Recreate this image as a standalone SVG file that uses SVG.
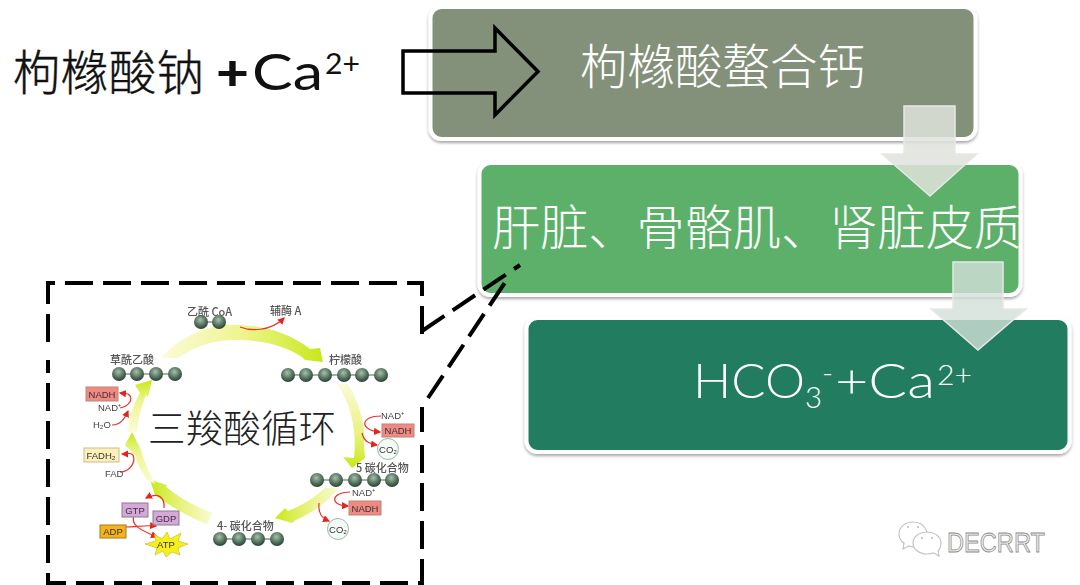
<svg xmlns="http://www.w3.org/2000/svg" width="1080" height="585" viewBox="0 0 1080 585">
<defs>
<filter id="sh" x="-5%" y="-10%" width="110%" height="125%"><feDropShadow dx="0" dy="2" stdDeviation="1.600" flood-color="#000" flood-opacity=".35"/></filter>
<filter id="soft" x="-10%" y="-10%" width="120%" height="120%"><feGaussianBlur stdDeviation=".55"/></filter>
<radialGradient id="ball" cx="45%" cy="35%" r="65%"><stop offset="0" stop-color="#a9bfae"/><stop offset=".55" stop-color="#5a7a64"/><stop offset="1" stop-color="#2a4032"/></radialGradient>
<linearGradient id="y1" x1="0" y1="0" x2="1" y2="0"><stop offset="0" stop-color="#fbfbd8"/><stop offset=".5" stop-color="#eef58f"/><stop offset="1" stop-color="#c8e81a"/></linearGradient>
<linearGradient id="y2" x1="0" y1="0" x2="0" y2="1"><stop offset="0" stop-color="#fbfbd8"/><stop offset=".6" stop-color="#e8f27e"/><stop offset="1" stop-color="#c8e81a"/></linearGradient>
<linearGradient id="y3" x1="1" y1="0" x2="0" y2="0"><stop offset="0" stop-color="#fbfbd8"/><stop offset=".5" stop-color="#e8f27e"/><stop offset="1" stop-color="#c8e81a"/></linearGradient>
<linearGradient id="y4" x1="0" y1="1" x2="0" y2="0"><stop offset="0" stop-color="#fbfbd8"/><stop offset=".6" stop-color="#eef58f"/><stop offset="1" stop-color="#c8e81a"/></linearGradient>
<marker id="ra" markerWidth="6" markerHeight="6" refX="5" refY="3" orient="auto"><path d="M0,0L6,3L0,6Z" fill="#e8241c"/></marker>
</defs>
<style>
text{font-family:"Noto Sans CJK SC","Noto Sans",sans-serif}
.big{font-size:47.500px;font-weight:300;fill:#fff}
.blk{fill:#111}
.lat{font-family:"Lato","Open Sans",sans-serif}
.box{stroke:#fff;stroke-width:4;filter:url(#sh)}
.da{fill:#dfe3dc;fill-opacity:.85;stroke:#e8e8e6;stroke-width:1.500}
.dash{fill:none;stroke:#000;stroke-width:4;stroke-dasharray:28 10}
.ball{fill:url(#ball)}
.bond{stroke:#4a6152;stroke-width:1}
.cn{font-size:11px;fill:#555;font-weight:500}
.lab{font-size:9.500px;fill:#444;font-family:"Liberation Sans",sans-serif}
.tag{font-size:9.500px;fill:#3a3040;font-family:"Liberation Sans",sans-serif;text-anchor:middle}
.red{fill:none;stroke:#e8332a;stroke-width:1.200;marker-end:url(#ra)}
</style>
<rect width="1080" height="585" fill="#fff"/>

<g id="node-citrate-calcium"><rect class="box" x="430.500" y="7" width="545" height="132" rx="11" fill="#84917a"/><text class="big" x="580" y="84">枸橼酸螯合钙</text></g>
<g id="node-organs"><rect class="box" x="479.500" y="163" width="541" height="132" rx="11" fill="#5bb069"/><text class="big" x="492" y="245" font-size="48" textLength="530" lengthAdjust="spacingAndGlyphs">肝脏、骨骼肌、肾脏皮质</text></g>
<g id="node-products"><rect class="box" x="526.500" y="318" width="543" height="134" rx="11" fill="#217b5e"/>
<text class="big lat" x="693" y="398" textLength="112" lengthAdjust="spacingAndGlyphs">HCO</text>
<text class="big lat" x="805" y="408" style="font-size:30px" textLength="17" lengthAdjust="spacingAndGlyphs">3</text>
<text class="big lat" x="822" y="383" style="font-size:30px">-</text>
<text class="big lat" x="835" y="398" textLength="100" lengthAdjust="spacingAndGlyphs">+Ca</text>
<text class="big lat" x="937" y="385" style="font-size:27px" textLength="35" lengthAdjust="spacingAndGlyphs">2+</text></g>

<g id="node-reactant"><text class="blk" x="13" y="90" font-size="47.500" font-weight="300" stroke="#111" stroke-width=".4" textLength="191">枸橼酸钠</text><text class="blk lat" x="216" y="90" font-size="50" font-weight="900" textLength="33" lengthAdjust="spacingAndGlyphs">+</text><text class="blk lat" x="252" y="90" font-size="50" font-weight="400" textLength="71" lengthAdjust="spacingAndGlyphs">Ca</text><text class="blk lat" x="325" y="74" font-size="29" font-weight="400" textLength="35" lengthAdjust="spacingAndGlyphs">2+</text></g>

<g id="connectors">
<path d="M403,51H495V28L538,71.500L495,115V93H403Z" fill="none" stroke="#000" stroke-width="3.500"/>
<path class="da" d="M904,106H955V154H977L930,196L882,154H904Z"/>
<path class="da" style="fill:#d3e0da;fill-opacity:.8" d="M953,262H1003V309H1026L978,350L931,309H953Z"/>
<path d="M422,331L520,265" fill="none" stroke="#000" stroke-width="4" stroke-dasharray="27 10"/>
<path d="M428,398L510,275" fill="none" stroke="#000" stroke-width="4" stroke-dasharray="27 10"/>
</g>

<g id="node-tca-cycle">
<path class="dash" d="M48,342V283H422V335"/>
<path class="dash" d="M422,407V432M422,445V583H48V360"/>
<g filter="url(#soft)">
<path fill="url(#y1)" d="M161,358C183,333 215,323 240,325C265,326 290,333 310,349L320,348L323,362L305,360L302,357C285,346 265,341 240,340C215,339 195,346 178,358Z"/>
<path fill="url(#y2)" d="M337,384H348C358,400 366,425 364,445L365,458L352,468L343,457L354,458C357,435 352,405 337,384Z"/>
<path fill="url(#y3)" d="M325,488H339C327,503 312,513 296,520L292,523L275,518L285,508L288,511C303,505 315,497 325,488Z"/>
<path fill="url(#y3)" d="M213,513L207,524C190,518 172,507 155,495L150,480L167,485L166,487C180,498 196,507 213,513Z"/>
<path fill="url(#y4)" d="M135,455L125,445L132,432L141,450C144,462 149,472 155,484L147,480C142,472 137,464 135,455Z"/>
<path fill="url(#y4)" d="M128,432C129,417 133,405 140,393L135,385L152,380L148,397L146,395C141,407 138,419 137,432Z"/>
<g class="bond"><path d="M201,322H219M119,374H175M288,375H381M317,480H392M220,539H277"/></g>
<g class="ball">
<circle cx="201" cy="322" r="7"/><circle cx="219" cy="322" r="7"/>
<circle cx="119" cy="374" r="7"/><circle cx="137" cy="374" r="7"/><circle cx="156" cy="374" r="7"/><circle cx="175" cy="374" r="7"/>
<circle cx="288" cy="375" r="7"/><circle cx="306" cy="375" r="7"/><circle cx="325" cy="375" r="7"/><circle cx="344" cy="375" r="7"/><circle cx="362" cy="375" r="7"/><circle cx="381" cy="375" r="7"/>
<circle cx="317" cy="480" r="7"/><circle cx="336" cy="480" r="7"/><circle cx="355" cy="480" r="7"/><circle cx="374" cy="480" r="7"/><circle cx="392" cy="480" r="7"/>
<circle cx="220" cy="539" r="7"/><circle cx="239" cy="539" r="7"/><circle cx="258" cy="539" r="7"/><circle cx="277" cy="539" r="7"/>
</g>
<text class="cn" x="187" y="316">乙酰 CoA</text>
<text class="cn" x="270" y="315">辅酶 A</text>
<text class="cn" x="110" y="364">草酰乙酸</text>
<text class="cn" x="329" y="364">柠檬酸</text>
<text class="cn" x="356" y="472">5 碳化合物</text>
<text class="cn" x="217" y="530">4- 碳化合物</text>

<path class="red" d="M240,327C250,331 270,332 284,318"/>
<path class="red" d="M120,408C130,406 134,398 128,394L120,393"/>
<path class="red" d="M112,425C120,425 124,420 128,411"/>
<path class="red" d="M120,472C130,472 136,462 133,455C130,452 126,454 122,454"/>
<path class="red" d="M164,508C165,497 158,492 146,498"/>
<path class="red" d="M134,515C130,525 140,530 157,537"/>
<path class="red" d="M126,527C136,527 144,525 156,526"/>
<path class="red" d="M381,416C360,416 359,430 380,432"/>
<path class="red" d="M362,433C364,442 370,444 377,445"/>
<path class="red" d="M350,492C332,492 328,505 348,506"/>
<path class="red" d="M319,503C318,514 322,518 329,521"/>

<rect x="86" y="387" width="32" height="14" fill="#f08a80" stroke="#b8857d"/><text class="tag" x="102" y="397.500">NADH</text>
<text class="lab" x="98" y="411">NAD⁺</text>
<text class="lab" x="93" y="428">H₂O</text>
<rect x="84" y="448" width="35" height="14" fill="#fbf0b8" stroke="#c9bd8a"/><text class="tag" x="101" y="458.500">FADH₂</text>
<text class="lab" x="105" y="477">FAD</text>
<rect x="122" y="503" width="26" height="14" fill="#d6a8d8" stroke="#8a7a90"/><text class="tag" x="135" y="513.500">GTP</text>
<rect x="153" y="511" width="26" height="14" fill="#d6a8d8" stroke="#8a7a90"/><text class="tag" x="166" y="521.500">GDP</text>
<rect x="100" y="525" width="26" height="13" fill="#f5b21a" stroke="#a07d20"/><text class="tag" x="113" y="535">ADP</text>
<path d="M145,544L156,541L154,534L162,539L167,532L170,539L181,533L178,541L188,544L178,548L180,555L172,552L166,557L163,551L155,555L157,548Z" fill="#f5f01e" stroke="#b5a810" stroke-width=".5"/><text class="tag" x="166" y="548" font-size="8">ATP</text>
<rect x="382" y="424" width="32" height="13" fill="#f08a80" stroke="#b8857d"/><text class="tag" x="398" y="434">NADH</text>
<text class="lab" x="381" y="419">NAD⁺</text>
<circle cx="388" cy="449" r="10.500" fill="#f4faf4" stroke="#9db8a8"/><text class="tag" x="388" y="453">CO₂</text>
<rect x="349" y="501" width="32" height="14" fill="#f08a80" stroke="#b8857d"/><text class="tag" x="365" y="511.500">NADH</text>
<text class="lab" x="352" y="496">NAD⁺</text>
<circle cx="338" cy="529" r="10.500" fill="#f4faf4" stroke="#9db8a8"/><text class="tag" x="338" y="533">CO₂</text>
</g>
<text x="148" y="442" font-size="37.500" font-weight="300" fill="#222" textLength="188">三羧酸循环</text>
</g>

<g id="watermark">
<g fill="#fff" stroke="#c4c4c4" stroke-width="1.200">
<path d="M913,522C905,522 899,527 899,534C899,538 901,541 904,543L903,549L909,546C912,547 916,547 919,546L927,532C925,526 920,522 913,522Z"/>
<path d="M927,532C919,532 913,537 913,543C913,549 919,554 927,554C930,554 932,553 934,553L939,556L938,551C940,549 941,546 941,543C941,537 935,532 927,532Z"/>
</g>
<g fill="#bbb"><circle cx="908" cy="527" r="1"/><circle cx="918" cy="527" r="1"/><circle cx="922" cy="538" r="1"/><circle cx="932" cy="538" r="1"/></g>
<text x="947" y="552" font-size="27.500" fill="#ececec" stroke="#8c8c8c" stroke-width=".8" style="font-family:'Liberation Sans',sans-serif" textLength="98" lengthAdjust="spacingAndGlyphs">DECRRT</text>
</g>
</svg>
